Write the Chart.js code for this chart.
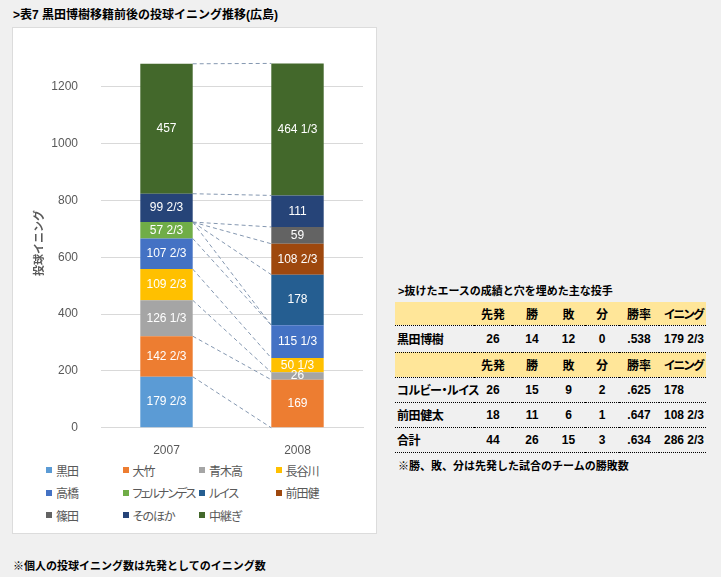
<!DOCTYPE html>
<html lang="ja">
<head>
<meta charset="utf-8">
<script src="https://cdn.jsdelivr.net/npm/chart.js@4.4.1/dist/chart.umd.min.js"></script>
<style>
  body { margin: 0; width: 721px; height: 577px; background: #f0f0f0; position: relative; overflow: hidden;
         font-family: "Liberation Sans", "Noto Sans CJK JP", sans-serif; color: #000; }
  .title { position: absolute; left: 13px; top: 5px; font-size: 12px; font-weight: bold; white-space: nowrap; }
  #panel { position: absolute; left: 12px; top: 27px; width: 363px; height: 505px; background: #fff; border: 1px solid #dcdcdc; }
  #chart { position: absolute; left: 0; top: 0; }
  #legend { position: absolute; left: 33px; top: 431px; display: grid; grid-template-columns: repeat(4, 76.5px); grid-auto-rows: 22.5px;
            font-size: 12px; color: #595959; font-feature-settings: "palt"; }
  #legend div { display: flex; align-items: center; white-space: nowrap; letter-spacing: -1px; }
  #legend div.long { letter-spacing: -1.9px; }
  #legend span.box { width: 6px; height: 6px; margin-right: 4px; flex: none; }
  .sub { position: absolute; left: 398px; top: 282px; font-size: 11px; font-weight: bold; white-space: nowrap; }
  table { position: absolute; left: 395px; top: 302px; border-collapse: collapse; table-layout: fixed; width: 311px;
          font-size: 12px; font-weight: bold; font-feature-settings: "palt"; }
  td { border-bottom: 1px dotted #000; padding: 0; text-align: center; white-space: nowrap; overflow: visible; }
  td:first-child { text-align: left; padding-left: 2px; letter-spacing: -0.4px; }
  td:last-child { text-align: left; padding-left: 5px; }
  tr.head td { background: #ffe699; }
  tr.head td:last-child { letter-spacing: -1.5px; }
  .note1 { position: absolute; left: 398px; top: 457px; font-size: 11px; font-weight: bold; white-space: nowrap; }
  .note2 { position: absolute; left: 13px; top: 557px; font-size: 11px; font-weight: bold; white-space: nowrap; }
</style>
</head>
<body>
<div class="title">&gt;表7 黒田博樹移籍前後の投球イニング推移(広島)</div>
<div id="panel">
  <canvas id="chart" width="363" height="430"></canvas>
  <div id="legend"></div>
</div>
<div class="sub">&gt;抜けたエースの成績と穴を埋めた主な投手</div>
<table id="stats">
  <colgroup>
    <col style="width:79px"><col style="width:38px"><col style="width:40px"><col style="width:33px">
    <col style="width:34px"><col style="width:40px"><col style="width:47px">
  </colgroup>
  <tbody></tbody>
</table>
<div class="note1">※勝、敗、分は先発した試合のチームの勝敗数</div>
<div class="note2">※個人の投球イニング数は先発としてのイニング数</div>

<script>
// 年度
const categories = ['2007', '2008'];

// 投手ごとのイニング数 (2007, 2008)
const kuroda    = [179 + 2/3, 0];
const otake     = [142 + 2/3, 169];
const aokitaka  = [126 + 1/3, 26];
const hasegawa  = [109 + 2/3, 50 + 1/3];
const takahashi = [107 + 2/3, 115 + 1/3];
const fernandez = [57 + 2/3, 0];
const lewis     = [0, 178];
const maedaken  = [0, 108 + 2/3];
const shinoda   = [0, 59];
const sonohoka  = [99 + 2/3, 111];
const chukei    = [457, 464 + 1/3];

const seriesNames = ['黒田', '大竹', '青木高', '長谷川', '高橋', 'フェルナンデス', 'ルイス', '前田健', '篠田', 'そのほか', '中継ぎ'];
const seriesValues = [kuroda, otake, aokitaka, hasegawa, takahashi, fernandez, lewis, maedaken, shinoda, sonohoka, chukei];
const seriesColors = ['#5B9BD5', '#ED7D31', '#A5A5A5', '#FFC000', '#4472C4', '#70AD47', '#255E91', '#9E480E', '#636363', '#264478', '#43682B'];

const yTickStep = 200;

// 表のデータ
const tableHeader = ['', '先発', '勝', '敗', '分', '勝率', 'イニング'];
const tableAce = [['黒田博樹', '26', '14', '12', '0', '.538', '179 2/3']];
const tableNew = [
  ['コルビー・ルイス', '26', '15', '9', '2', '.625', '178'],
  ['前田健太', '18', '11', '6', '1', '.647', '108 2/3'],
  ['合計', '44', '26', '15', '3', '.634', '286 2/3']
];

// 1/3 単位の表記
function fmt(v) {
  const w = Math.floor(v + 1e-6);
  const f = Math.round((v - w) * 3);
  return f ? w + ' ' + f + '/3' : String(w);
}

// 系列線 (破線)
const seriesLines = {
  id: 'seriesLines',
  beforeDatasetsDraw(chart) {
    const ctx = chart.ctx;
    ctx.save();
    ctx.strokeStyle = '#8497B0';
    ctx.lineWidth = 1;
    ctx.setLineDash([4, 3]);
    chart.data.datasets.forEach((ds, i) => {
      const d = chart.getDatasetMeta(i).data;
      ctx.beginPath();
      ctx.moveTo(d[0].x + d[0].width / 2, d[0].y);
      ctx.lineTo(d[1].x - d[1].width / 2, d[1].y);
      ctx.stroke();
    });
    ctx.restore();
  }
};

// データラベル
const barLabels = {
  id: 'barLabels',
  afterDatasetsDraw(chart) {
    const ctx = chart.ctx;
    ctx.save();
    ctx.fillStyle = '#fff';
    ctx.font = '12px "Liberation Sans", sans-serif';
    ctx.textAlign = 'center';
    ctx.textBaseline = 'middle';
    chart.data.datasets.forEach((ds, i) => {
      chart.getDatasetMeta(i).data.forEach((bar, j) => {
        const v = ds.data[j];
        if (!v) return;
        ctx.fillText(fmt(v), bar.x, (bar.y + bar.base) / 2);
      });
    });
    ctx.restore();
  }
};

new Chart(document.getElementById('chart'), {
  type: 'bar',
  data: {
    labels: categories,
    datasets: seriesNames.map((name, i) => ({
      label: name,
      data: seriesValues[i],
      backgroundColor: seriesColors[i],
      borderWidth: 0,
      categoryPercentage: 1,
      barPercentage: 0.4
    }))
  },
  options: {
    responsive: false,
    animation: false,
    devicePixelRatio: 1,
    layout: { padding: { left: 0, right: 13, top: 13, bottom: 0 } },
    plugins: { legend: { display: false }, tooltip: { enabled: false } },
    scales: {
      x: {
        stacked: true,
        grid: { display: false },
        border: { display: true, color: '#d9d9d9' },
        ticks: { color: '#595959', font: { size: 12, family: '"Liberation Sans", sans-serif' }, padding: 8 },
        afterFit(s) { s.height = 29; }
      },
      y: {
        stacked: true,
        min: 0,
        max: 1300,
        grid: { color: '#d9d9d9', drawTicks: false },
        border: { display: false },
        ticks: {
          stepSize: yTickStep, color: '#595959', padding: 23,
          font: { size: 12, family: '"Liberation Sans", sans-serif' },
          callback: v => String(v)
        },
        afterBuildTicks(s) { s.ticks = s.ticks.filter(t => t.value % yTickStep === 0); },
        afterFit(s) { s.width = 88; },
        title: {
          display: true,
          text: '投球イニング',
          color: '#595959',
          font: { size: 11, weight: 'bold', family: '"Noto Sans CJK JP", sans-serif' },
          padding: { top: 19, bottom: 0 }
        }
      }
    }
  },
  plugins: [seriesLines, barLabels]
});

// 凡例
const legend = document.getElementById('legend');
seriesNames.forEach((name, i) => {
  const item = document.createElement('div');
  if (name.length > 5) item.className = 'long';
  item.innerHTML = '<span class="box" style="background:' + seriesColors[i] + '"></span>' + name;
  legend.appendChild(item);
});

// 表
const tbody = document.querySelector('#stats tbody');
function addRow(cells, head, h) {
  const tr = document.createElement('tr');
  if (head) tr.className = 'head';
  tr.style.height = h + 'px';
  cells.forEach(c => { const td = document.createElement('td'); td.textContent = c; tr.appendChild(td); });
  tbody.appendChild(tr);
}
addRow(tableHeader, true, 23);
tableAce.forEach(r => addRow(r, false, 27));
addRow(tableHeader, true, 25);
tableNew.forEach(r => addRow(r, false, 25));
</script>
</body>
</html>
